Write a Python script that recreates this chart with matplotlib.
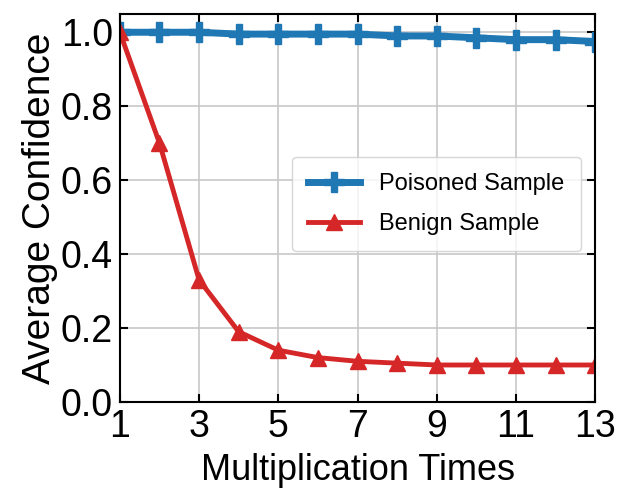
import matplotlib
matplotlib.use("Agg")
import matplotlib.pyplot as plt

times = [1, 2, 3, 4, 5, 6, 7, 8, 9, 10, 11, 12, 13]
poisoned = [1.0, 1.0, 1.0, 0.995, 0.995, 0.995, 0.995, 0.99, 0.99, 0.985, 0.98, 0.98, 0.975]
benign = [1.0, 0.70, 0.33, 0.19, 0.14, 0.12, 0.11, 0.105, 0.10, 0.10, 0.10, 0.10, 0.10]

plt.rcParams['font.family'] = ['Liberation Sans', 'DejaVu Sans']

fig = plt.figure(figsize=(6.18, 4.92), dpi=100)
ax = fig.add_axes([0.194, 0.183, 0.769, 0.789])

ax.plot(times, poisoned, '-P', color='#1f77b4', lw=5, markersize=14, label='Poisoned Sample')
ax.plot(times, benign, '-^', color='#d62728', lw=3.5, markersize=12, label='Benign Sample')

ax.set_xlim(1, 13)
ax.set_ylim(0, 1.05)
ax.set_xticks([1, 3, 5, 7, 9, 11, 13])
ax.set_yticks([0.0, 0.2, 0.4, 0.6, 0.8, 1.0])
ax.grid(True, color='#c8c8c8', lw=1.2)
ax.tick_params(direction='in', top=True, right=True, labelsize=27, length=6, width=1.5, pad=5)
for s in ax.spines.values():
    s.set_linewidth(1.5)
ax.set_xlabel('Multiplication Times', fontsize=26, labelpad=6)
ax.set_ylabel('Average Confidence', fontsize=28, labelpad=2)
ax.legend(loc='center right', bbox_to_anchor=(0.995, 0.51), fontsize=17, handlelength=2.2,
          borderpad=0.7, labelspacing=0.75, framealpha=0.8)

fig.savefig('out.png', dpi=100)
